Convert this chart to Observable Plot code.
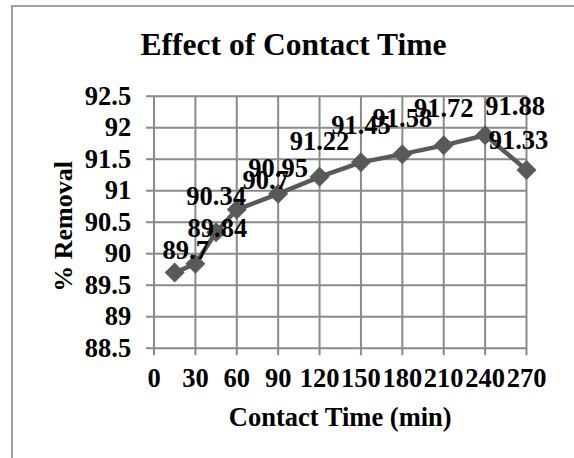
<!DOCTYPE html>
<html>
<head>
<meta charset="utf-8">
<script src="https://cdn.jsdelivr.net/npm/d3@7"></script>
<script src="https://cdn.jsdelivr.net/npm/@observablehq/plot@0.6"></script>
<style>
  html, body { margin: 0; padding: 0; background: #fff; }
  #wrap { position: relative; width: 574px; height: 458px; overflow: hidden; }
  #border { position: absolute; left: 11px; top: 5px; width: 700px; height: 600px;
            border-left: 2px solid #a0a0a0; border-top: 2px solid #a0a0a0; }
  #chart { position: absolute; left: 0; top: 0; }
</style>
</head>
<body>
<div id="wrap"><div id="border"></div><div id="chart"></div></div>
<script>
const minutes = [15, 30, 45, 60, 90, 120, 150, 180, 210, 240, 270];
const removal = [89.7, 89.84, 90.34, 90.7, 90.95, 91.22, 91.45, 91.58, 91.72, 91.88, 91.33];
const xTicks = [0, 30, 60, 90, 120, 150, 180, 210, 240, 270];
const yTicks = [88.5, 89, 89.5, 90, 90.5, 91, 91.5, 92, 92.5];
const title = "Effect of Contact Time";
const xLabel = "Contact Time (min)";
const yLabel = "% Removal";

// pixel nudges of the data labels (as dragged in the original chart)
const labelNudge = [[11, -14], [22, -26.5], [0, -27], [29, -21], [0, -16.5], [0, -27],
                    [0, -28], [0, -27], [0, -28.7], [30, -20], [-8, -21]];

const data = minutes.map((m, i) => ({m, r: removal[i]}));
const grid = "#8a8a8a";
const lineColor = "#595959";
const font = "'Liberation Serif', 'Times New Roman', Times, serif";

const labelMarks = data.map((d, i) =>
  Plot.text([d], {x: "m", y: "r", text: d => String(d.r), dx: labelNudge[i][0], dy: labelNudge[i][1],
                  lineAnchor: "bottom", textAnchor: "middle", fontSize: 26.5, fontWeight: "bold", fill: "black"}));

const chart = Plot.plot({
  width: 574,
  height: 458,
  marginLeft: 153.5,
  marginRight: 48,
  marginTop: 95.7,
  marginBottom: 110.3,
  style: {fontFamily: font, fontWeight: "bold", fontSize: "26.5px", color: "black", background: "transparent", overflow: "visible"},
  x: {domain: [0, 270]},
  y: {domain: [88.5, 92.5]},
  marks: [
    Plot.gridX(xTicks, {stroke: grid, strokeOpacity: 1, strokeWidth: 2}),
    Plot.gridY(yTicks, {stroke: grid, strokeOpacity: 1, strokeWidth: 2}),
    Plot.axisX(xTicks, {tickSize: 7.5, tickPadding: 12.7, stroke: grid, strokeWidth: 2, fill: "black", label: null, tickFormat: d => String(d), fontSize: 26.5, fontWeight: "bold"}),
    Plot.axisY(yTicks, {tickSize: 7.5, tickPadding: 15.3, stroke: grid, strokeWidth: 2, fill: "black", label: null, tickFormat: d => String(d), fontSize: 26.5, fontWeight: "bold"}),
    Plot.line(data, {x: "m", y: "r", stroke: lineColor, strokeWidth: 4.5}),
    Plot.dot(data, {x: "m", y: "r", symbol: "diamond2", r: 9, fill: lineColor, stroke: null}),
    ...labelMarks,
    Plot.text([title], {frameAnchor: "top", dx: -46.75, dy: -40.7, lineAnchor: "bottom", textAnchor: "middle", fontSize: 31.5, fontWeight: "bold", fill: "black"}),
    Plot.text([xLabel], {frameAnchor: "bottom", dy: 78, lineAnchor: "bottom", textAnchor: "middle", fontSize: 26.5, fontWeight: "bold", fill: "black"}),
    Plot.text([yLabel], {frameAnchor: "left", dx: -81.8, dy: 4.3, rotate: -90, lineAnchor: "bottom", textAnchor: "middle", fontSize: 26, fontWeight: "bold", fill: "black"})
  ]
});
document.getElementById("chart").appendChild(chart);
</script>
</body>
</html>
